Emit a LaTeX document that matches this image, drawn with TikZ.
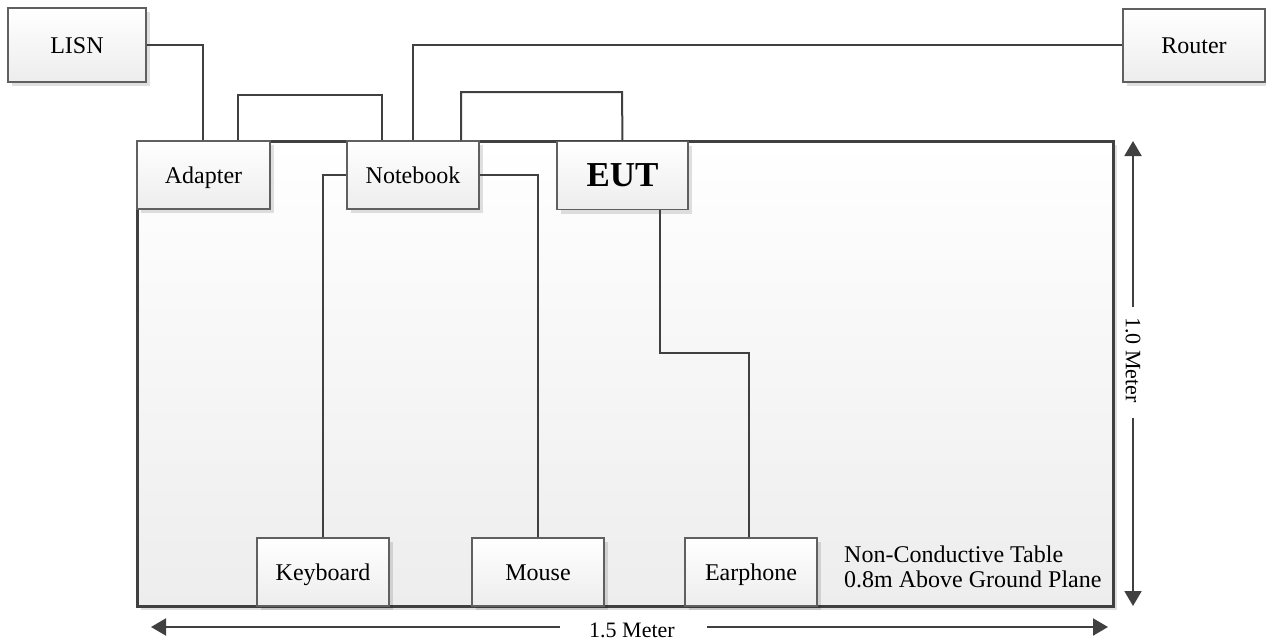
\documentclass[tikz,border=0pt]{standalone}
\usepackage{fontspec}
\setmainfont{Liberation Serif}
\usetikzlibrary{arrows.meta,shadows}
\definecolor{wirec}{HTML}{404040}
\definecolor{boxline}{HTML}{606060}
\definecolor{boxbot}{HTML}{EDEDED}
\begin{document}
\begin{tikzpicture}[x=1pt,y=-1pt,
  devbox/.style={draw=boxline, line width=1.2pt, top color=white, bottom color=boxbot,
    drop shadow={shadow xshift=4pt, shadow yshift=-4pt, fill=black, opacity=0.12},
    inner sep=0pt, text height=17pt, text depth=0pt, font=\fontsize{24}{28}\selectfont},
  tablebox/.style={draw=wirec, line width=3pt, top color=white, bottom color=boxbot,
    drop shadow={shadow xshift=4pt, shadow yshift=-4pt, fill=black, opacity=0.12},
    inner sep=0pt},
  wire/.style={draw=wirec, line width=2pt},
  dim/.style={draw=wirec, line width=2pt, -{Triangle[length=15pt,width=17pt]}},
  dimlabel/.style={inner sep=0pt, font=\fontsize{22}{26}\selectfont},
]
\useasboundingbox (0,0) rectangle (1266,642);
% table
\node[tablebox, minimum width=976pt, minimum height=465pt] (table) at (625,373.5) {};
% devices
\node[devbox, minimum width=138pt, minimum height=74pt] (lisn) at (77,45) {LISN};
\node[devbox, minimum width=142pt, minimum height=73pt] (router) at (1194,45.5) {Router};
\node[devbox, minimum width=133pt, minimum height=68pt] (adapter) at (203.5,175) {Adapter};
\node[devbox, minimum width=132pt, minimum height=68pt] (notebook) at (413,175) {Notebook};
\node[devbox, minimum width=131pt, minimum height=68pt, text height=21pt, font=\fontsize{35}{40}\selectfont\bfseries] (eut) at (622.5,175.5) {EUT};
\node[devbox, minimum width=132pt, minimum height=68pt] (keyboard) at (323,572) {Keyboard};
\node[devbox, minimum width=132pt, minimum height=68pt] (mouse) at (538,572) {Mouse};
\node[devbox, minimum width=132pt, minimum height=68pt] (earphone) at (751,572) {Earphone};
% table caption
\node[anchor=west, align=left, inner sep=0pt, font=\fontsize{24}{25}\selectfont] (caption) at (844,567) {Non-Conductive Table\\0.8m Above Ground Plane};
% wires
\draw[wire] (lisn.east) -| (adapter.north -| 203,0);
\draw[wire] (adapter.north -| 238,0) |- (382,95) -- (notebook.north -| 382,0);
\draw[wire] (notebook.north -| 413,0) |- (router.west);
\draw[wire] (notebook.north -| 461,0) |- (622,92) -- (eut.north);
\draw[wire] (notebook.west) -| (keyboard.north);
\draw[wire] (notebook.east) -| (mouse.north);
\draw[wire] (eut.south -| 660,0) -- (660,353) -| (earphone.north -| 749,0);
% dimensions
\node[dimlabel, rotate=-90] (vlab) at (1133,360) {1.0 Meter};
\node[dimlabel] (hlab) at (632,630) {1.5 Meter};
\coordinate (vg1) at (1133,307);
\coordinate (vg2) at (1133,418);
\coordinate (vtop) at (1133,141);
\coordinate (vbot) at (1133,606);
\coordinate (hg1) at (560,627);
\coordinate (hg2) at (707,627);
\coordinate (hleft) at (151,627);
\coordinate (hright) at (1108,627);
\draw[dim] (vg1) -- (vtop);
\draw[dim] (vg2) -- (vbot);
\draw[dim] (hg1) -- (hleft);
\draw[dim] (hg2) -- (hright);
\end{tikzpicture}
\end{document}
